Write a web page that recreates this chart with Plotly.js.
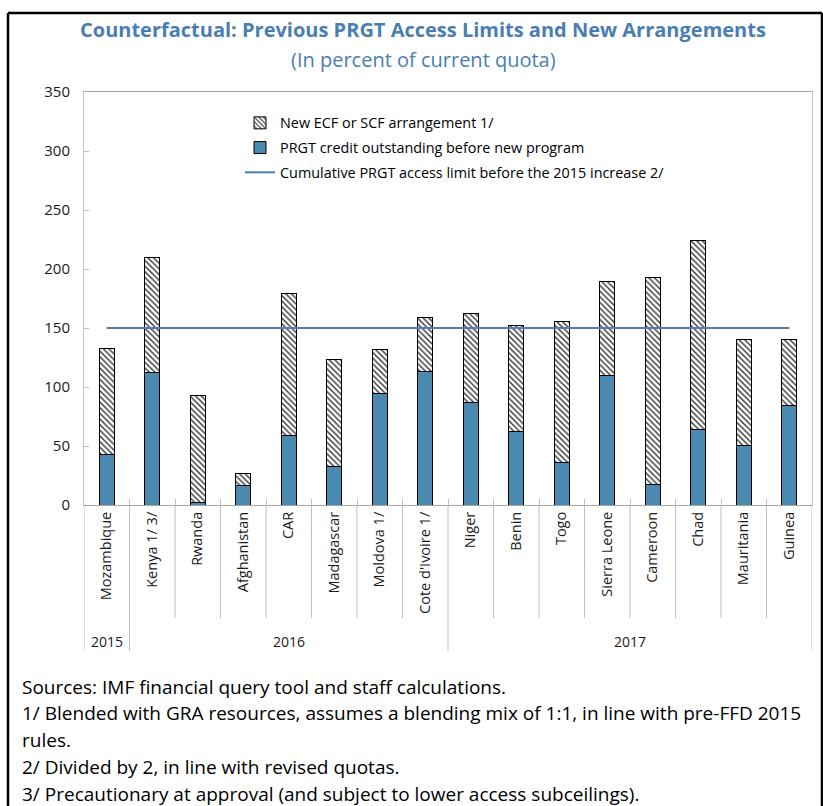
<!DOCTYPE html>
<html>
<head>
<meta charset="utf-8">
<script src="https://cdn.plot.ly/plotly-3.0.1.min.js"></script>
<style>html,body{margin:0;padding:0;background:#fff;}#chart{width:823px;height:806px;}</style>
</head>
<body>
<div id="chart"></div>
<script>
// ---- data ----
const countries = ['Mozambique','Kenya 1/ 3/','Rwanda','Afghanistan','CAR','Madagascar','Moldova 1/',"Cote d'Ivoire 1/",'Niger','Benin','Togo','Sierra Leone','Cameroon','Chad','Mauritania','Guinea'];
const years = ['2015','2016','2016','2016','2016','2016','2016','2016','2017','2017','2017','2017','2017','2017','2017','2017'];
const prgtOutstanding = [43,112,2.5,16.5,59,33,94.5,113,87,62,36,110,17.5,64,50.5,84];
const newArrangement = [90,98,90,10,120,90,37.5,45.5,75.5,90,119.5,79,175,160,90,56.5];
const accessLimit = [150,150,150,150,150,150,150,150,150,150,150,150,150,150,150,150];
const yTicks = [0,50,100,150,200,250,300,350];
const titleText = 'Counterfactual: Previous PRGT Access Limits and New Arrangements';
const subtitleText = '(In percent of current quota)';
const footnotes = [
  'Sources: IMF financial query tool and staff calculations.',
  '1/ Blended with GRA resources, assumes a blending mix of 1:1, in line with pre-FFD 2015',
  'rules.',
  '2/ Divided by 2, in line with revised quotas.',
  '3/ Precautionary at approval (and subject to lower access subceilings).'
];
const seriesNames = ['New ECF or SCF arrangement 1/','PRGT credit outstanding before new program','Cumulative PRGT access limit before the 2015 increase 2/'];

// ---- geometry helpers (pixels -> paper) ----
const W = 823, H = 806;
const M = {l:84, r:11, t:92, b:301};
const pw = W - M.l - M.r, ph = H - M.t - M.b;
const px = x => (x - M.l) / pw;
const py = y => (H - M.b - y) / ph;

const FONT = '"Open Sans", "Noto Sans", sans-serif';
const GRID = '#BFBFBF';
const BLUE = '#4A89B0';
const LINEBLUE = '#4A80BC';
const TITLEBLUE = '#4A7EB3';

const traces = [
  {
    type:'bar', x:countries, y:prgtOutstanding, name:seriesNames[1],
    marker:{color:BLUE, line:{color:'#000', width:1}},
    legendrank:2, legendgroup:'b', hoverinfo:'x+y'
  },
  {
    type:'bar', x:countries, y:newArrangement, name:seriesNames[0],
    marker:{color:'#fff', line:{color:'#000', width:1},
      pattern:{shape:'\\', fgcolor:'#333', bgcolor:'#fff', size:4, solidity:0.35}},
    legendrank:1, legendgroup:'a', hoverinfo:'x+y'
  },
  {
    type:'scatter', mode:'lines', x:countries, y:accessLimit, name:seriesNames[2],
    line:{color:LINEBLUE, width:2}, legendrank:3, legendgroup:'c', hoverinfo:'x+y'
  }
];

// category dividers & year labels from data
const shapes = [];
const annotations = [];
const groups = [];
years.forEach((yr,i) => {
  if (!groups.length || groups[groups.length-1].yr !== yr) groups.push({yr, start:i, end:i});
  else groups[groups.length-1].end = i;
});
const groupEdges = new Set();
groups.forEach(g => { groupEdges.add(g.start-0.5); groupEdges.add(g.end+0.5); });
for (let i = 0; i <= countries.length; i++) {
  const xb = i - 0.5;
  const long = groupEdges.has(xb);
  shapes.push({type:'line', xref:'x', yref:'paper', x0:xb, x1:xb, y0:0, y1:py(long ? 651 : 618), line:{color:GRID, width:1}});
}
groups.forEach(g => {
  annotations.push({xref:'x', yref:'paper', x:(g.start+g.end)/2, y:py(641), text:g.yr, showarrow:false,
    xanchor:'center', yanchor:'middle', font:{family:FONT, size:14, color:'#1a1a1a'}});
});

// outer frame
const fx0 = px(8), fx1 = px(822), fy0 = py(13), fy1 = py(815);
shapes.push({type:'line', xref:'paper', yref:'paper', x0:fx0, x1:fx1, y0:fy0, y1:fy0, line:{color:'#000', width:2.5}});
shapes.push({type:'line', xref:'paper', yref:'paper', x0:fx0, x1:fx0, y0:fy0, y1:fy1, line:{color:'#000', width:2.5}});
shapes.push({type:'line', xref:'paper', yref:'paper', x0:fx1, x1:fx1, y0:fy0, y1:fy1, line:{color:'#000', width:2.5}});

annotations.push({xref:'paper', yref:'paper', x:px(423), y:py(30), text:'<b>'+titleText+'</b>', showarrow:false,
  xanchor:'center', yanchor:'middle', font:{family:FONT, size:20, color:TITLEBLUE}});
annotations.push({xref:'paper', yref:'paper', x:px(423), y:py(59), text:subtitleText, showarrow:false,
  xanchor:'center', yanchor:'middle', font:{family:FONT, size:20, color:TITLEBLUE}});

const footY = [687, 713, 740, 767, 794];
footnotes.forEach((t,i) => {
  annotations.push({xref:'paper', yref:'paper', x:px(20), y:py(footY[i]), text:t, showarrow:false,
    xanchor:'left', yanchor:'middle', font:{family:FONT, size:19, color:'#000'}});
});

const layout = {
  width:W, height:H, margin:M, paper_bgcolor:'#fff', plot_bgcolor:'#fff',
  barmode:'stack', bargap:0.67, showlegend:true,
  font:{family:FONT, size:14, color:'#1a1a1a'},
  legend:{x:px(240), y:py(107), xanchor:'left', yanchor:'top', traceorder:'grouped', tracegroupgap:3,
    bgcolor:'rgba(0,0,0,0)', font:{family:FONT, size:14.4, color:'#000'}},
  xaxis:{type:'category', categoryorder:'array', categoryarray:countries,
    range:[-0.5, countries.length-0.5], tickson:'boundaries', ticks:'inside', ticklen:6,
    tickcolor:GRID, tickwidth:1, tickangle:-90,
    showline:true, linecolor:'#A6A6A6', linewidth:1, mirror:true, showgrid:false, zeroline:false,
    tickfont:{family:FONT, size:14.5, color:'#1a1a1a'}, fixedrange:true},
  yaxis:{range:[0,350], tickvals:yTicks, ticktext:yTicks.map(String), ticks:'inside', ticklen:5,
    ticklabelstandoff:10,
    tickcolor:GRID, showline:true, linecolor:GRID, linewidth:1, mirror:true, showgrid:false, zeroline:false,
    tickfont:{family:FONT, size:15, color:'#1a1a1a'}, fixedrange:true},
  shapes:shapes, annotations:annotations
};

Plotly.newPlot('chart', traces, layout, {displayModeBar:false, staticPlot:true});
</script>
</body>
</html>
